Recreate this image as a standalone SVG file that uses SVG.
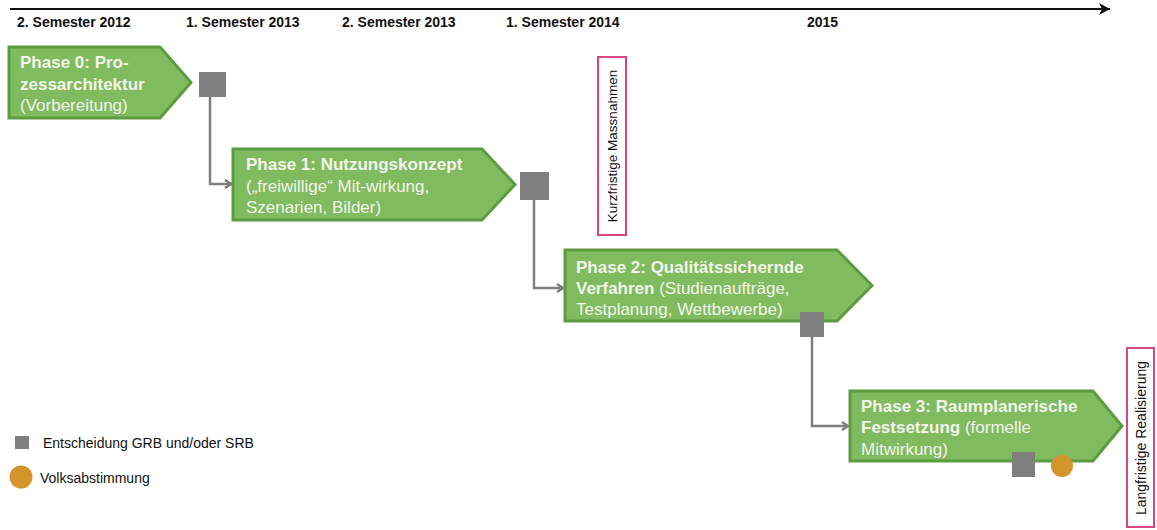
<svg xmlns="http://www.w3.org/2000/svg" width="1157" height="530" viewBox="0 0 1157 530">
<style>
.tl{font-family:"Liberation Sans",Arial,sans-serif;font-size:14px;font-weight:bold;fill:#111}
.ph{fill:#80bb60;stroke:#5c9c40;stroke-width:3;stroke-linejoin:miter}
.pt{font-family:"Liberation Sans",Arial,sans-serif;font-size:17px;fill:#f2f5ea}
.b{font-weight:bold}
.sq{fill:#7f7f7f}
.con{fill:none;stroke:#7f7f7f;stroke-width:2.5}
.pk{fill:#fff;stroke:#d9467f;stroke-width:2}
.vt{font-family:"Liberation Sans",Arial,sans-serif;font-size:13.5px;fill:#111}
.lg{font-family:"Liberation Sans",Arial,sans-serif;font-size:14px;fill:#111}
</style>
<defs>
<marker id="ah" markerWidth="10" markerHeight="10" refX="7" refY="5" orient="auto" markerUnits="userSpaceOnUse">
<path d="M1,1 L7,5 L1,9" fill="none" stroke="#7f7f7f" stroke-width="2.5"/>
</marker>
<marker id="ta" markerWidth="14" markerHeight="14" refX="12" refY="7" orient="auto" markerUnits="userSpaceOnUse">
<path d="M1,1 L12,7 L1,13 L4,7 Z" fill="#111"/>
</marker>
</defs>
<g id="timeline">
<line x1="10" y1="9" x2="1110" y2="9" stroke="#111" stroke-width="2" marker-end="url(#ta)"/>
<text class="tl" x="17" y="27">2. Semester 2012</text>
<text class="tl" x="186" y="27">1. Semester 2013</text>
<text class="tl" x="342" y="27">2. Semester 2013</text>
<text class="tl" x="506" y="27">1. Semester 2014</text>
<text class="tl" x="807" y="27">2015</text>
</g>
<g id="connectors">
<path class="con" d="M210,97 V184 H231" marker-end="url(#ah)"/>
<path class="con" d="M534,200 V288 H563" marker-end="url(#ah)"/>
<path class="con" d="M812,337 V426 H848" marker-end="url(#ah)"/>
</g>
<g id="phase0">
<path class="ph" d="M9,47 H160 L191,82.5 L160,118 H9 Z"/>
<text class="pt" x="20" y="68"><tspan class="b">Phase 0: Pro-</tspan><tspan class="b" x="20" y="90">zessarchitektur</tspan><tspan x="20" y="111">(Vorbereitung)</tspan></text>
<rect class="sq" x="199" y="72" width="27" height="25"/>
</g>
<g id="phase1">
<path class="ph" d="M233,149 H482 L515,184.5 L482,220 H233 Z"/>
<text class="pt" x="246" y="170"><tspan class="b">Phase 1: Nutzungskonzept</tspan><tspan x="246" y="192">(„freiwillige“ Mit-wirkung,</tspan><tspan x="246" y="213">Szenarien, Bilder)</tspan></text>
<rect class="sq" x="520" y="172" width="29" height="28"/>
</g>
<g id="phase2">
<path class="ph" d="M565,250 H837 L872,285.5 L837,321 H565 Z"/>
<text class="pt" x="576" y="273"><tspan class="b">Phase 2: Qualitätssichernde</tspan><tspan x="576" y="294"><tspan class="b">Verfahren</tspan> (Studienaufträge,</tspan><tspan x="576" y="315">Testplanung, Wettbewerbe)</tspan></text>
<rect class="sq" x="800" y="312" width="24" height="25"/>
</g>
<g id="phase3">
<path class="ph" d="M850,391 H1093 L1122,426 L1093,461 H850 Z"/>
<text class="pt" x="861" y="412"><tspan class="b">Phase 3: Raumplanerische</tspan><tspan x="861" y="433"><tspan class="b">Festsetzung</tspan> (formelle</tspan><tspan x="861" y="455">Mitwirkung)</tspan></text>
<rect class="sq" x="1012" y="452" width="23" height="25"/>
<circle cx="1062" cy="466" r="11" fill="#d4962a"/>
</g>
<g id="kurzfristig">
<rect class="pk" x="598" y="57" width="28" height="178"/>
<text class="vt" transform="translate(617,146) rotate(-90)" text-anchor="middle">Kurzfristige Massnahmen</text>
</g>
<g id="langfristig">
<rect class="pk" x="1127" y="348" width="27" height="179"/>
<text class="vt" transform="translate(1146,438) rotate(-90)" text-anchor="middle" style="font-size:14px">Langfristige Realisierung</text>
</g>
<g id="legend">
<rect class="sq" x="15" y="436" width="14" height="13"/>
<text class="lg" x="43" y="448">Entscheidung GRB und/oder SRB</text>
<circle cx="21" cy="477" r="11.5" fill="#d4962a"/>
<text class="lg" x="40" y="483">Volksabstimmung</text>
</g>
</svg>
